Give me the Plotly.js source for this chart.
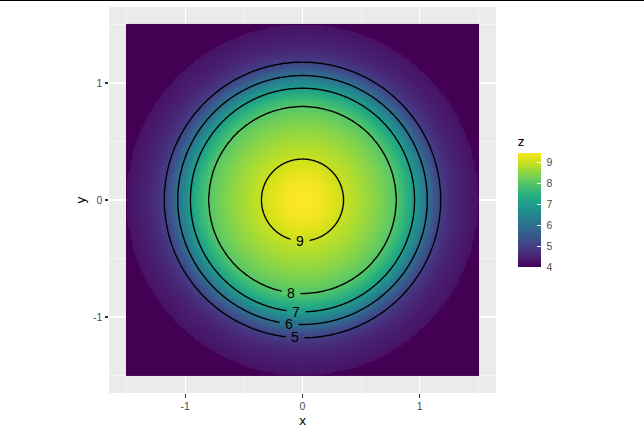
<!DOCTYPE html>
<html>
<head>
<meta charset="utf-8">
<script src="https://cdn.plot.ly/plotly-3.0.1.min.js"></script>
<style>
html,body{margin:0;padding:0;background:#fff;}
#chart{width:644px;height:434px;}
#topline{position:absolute;left:0;top:0;width:644px;height:1px;background:#000;z-index:10;}
</style>
</head>
<body>
<div id="topline"></div>
<div id="chart"></div>
<script>
// Radial profile of z (distance from centre -> z)
const profileR = [0, 0.1, 0.2, 0.35, 0.5, 0.65, 0.8, 0.88, 0.956, 1.01, 1.064, 1.12, 1.177, 1.25, 1.3, 1.4, 1.5];
const profileZ = [9.43, 9.39, 9.28, 9.0, 8.72, 8.4, 8.0, 7.55, 7.0, 6.5, 6.0, 5.5, 5.0, 4.7, 4.55, 4.38, 4.25];
const outsideZ = 4.0;          // value outside the disc
const gridMin = -1.5, gridMax = 1.5, gridStep = 0.01;
const contourLevels = [5, 6, 7, 8, 9];
const labelX = [-0.067, -0.117, -0.058, -0.10, -0.024];   // where each contour label sits along x
const colorbarTicks = [4, 5, 6, 7, 8, 9];
const zMin = 4.0, zMax = 9.43;

const viridis = [[0,'#440154'],[0.0627,'#48186a'],[0.1255,'#472d7b'],[0.1882,'#424086'],[0.2510,'#3b528b'],[0.3137,'#33638d'],[0.3765,'#2c728e'],[0.4392,'#26828e'],[0.5020,'#21918c'],[0.5647,'#1fa088'],[0.6275,'#28ae80'],[0.6902,'#3fbc73'],[0.7529,'#5ec962'],[0.8157,'#84d44b'],[0.8784,'#addc30'],[0.9412,'#d8e219'],[1,'#fde725']];

function zAt(r){
  if (r > profileR[profileR.length-1]) return outsideZ;
  for (let i=1;i<profileR.length;i++){
    if (r <= profileR[i]){
      const t=(r-profileR[i-1])/(profileR[i]-profileR[i-1]);
      return profileZ[i-1]+t*(profileZ[i]-profileZ[i-1]);
    }
  }
  return outsideZ;
}
function radiusOf(level){
  for (let i=1;i<profileZ.length;i++){
    if (level >= profileZ[i]){
      const t=(profileZ[i-1]-level)/(profileZ[i-1]-profileZ[i]);
      return profileR[i-1]+t*(profileR[i]-profileR[i-1]);
    }
  }
  return profileR[profileR.length-1];
}
function hex2rgb(h){return [parseInt(h.substr(1,2),16),parseInt(h.substr(3,2),16),parseInt(h.substr(5,2),16)];}
function colorOf(v){
  const t=(v-zMin)/(zMax-zMin);
  for (let i=1;i<viridis.length;i++){
    if (t<=viridis[i][0]){
      const u=(t-viridis[i-1][0])/(viridis[i][0]-viridis[i-1][0]);
      const a=hex2rgb(viridis[i-1][1]), b=hex2rgb(viridis[i][1]);
      return 'rgb('+a.map((c,k)=>Math.round(c+u*(b[k]-c))).join(',')+')';
    }
  }
  return viridis[viridis.length-1][1];
}

const xs=[], ys=[];
const n=Math.round((gridMax-gridMin)/gridStep);
for (let i=0;i<=n;i++){ xs.push(+(gridMin+i*gridStep).toFixed(4)); ys.push(+(gridMin+i*gridStep).toFixed(4)); }
const zs = ys.map(y=>xs.map(x=>zAt(Math.sqrt(x*x+y*y))));

const font = "Liberation Sans, Arial, sans-serif";
const nb = '\u00a0';

const heat = {
  type:'heatmap', x:xs, y:ys, z:zs, zmin:zMin, zmax:zMax, colorscale:viridis,
  zsmooth:false, hoverinfo:'skip',
  colorbar:{
    x:1.056, xanchor:'left', y:(393-267)/386, yanchor:'bottom',
    thickness:23, thicknessmode:'pixels', len:134, lenmode:'pixels',
    outlinewidth:0, xpad:0, ypad:0,
    tickvals:colorbarTicks, ticktext:colorbarTicks.map(v=>nb+String(v)),
    ticks:'inside', ticklen:4, tickcolor:'#ffffff', tickwidth:1,
    tickfont:{family:font,size:10.5,color:'#4d4d4d'},
    title:{text:'z', side:'top', font:{family:font,size:13.5,color:'#000'}}
  }
};
const cont = {
  type:'contour', x:xs, y:ys, z:zs, showscale:false, hoverinfo:'skip',
  contours:{start:contourLevels[0], end:contourLevels[contourLevels.length-1], size:1, coloring:'none'},
  line:{color:'#000', width:1.4}
};

const gapBoxes = [], labels = [];
contourLevels.forEach((l,i)=>{
  const r=radiusOf(l), x=labelX[i], y=-Math.sqrt(r*r-x*x);
  gapBoxes.push({
    x:x, y:y, xref:'x', yref:'y', text:nb, showarrow:false,
    font:{family:font,size:4,color:'rgba(0,0,0,0)'}, bgcolor:colorOf(l), borderpad:0, width:18, height:5
  });
  labels.push({
    x:x, y:y, xref:'x', yref:'y', text:String(l), showarrow:false,
    font:{family:font,size:14,color:'#000'}
  });
});

const axisCommon = {
  range:[-1.65,1.65], showgrid:true, gridcolor:'#ffffff', gridwidth:1.1, zeroline:false, showline:false,
  tickmode:'array', tickvals:[-1,0,1], ticktext:['-1','0','1'],
  ticks:'outside', ticklen:3.5, tickcolor:'#333333', tickwidth:1.1,
  tickfont:{family:font,size:10.5,color:'#4d4d4d'},
  minor:{tickmode:'array', tickvals:[-1.5,-0.5,0.5,1.5], showgrid:true, gridcolor:'#ffffff', gridwidth:0.55, ticks:''}
};

const layout = {
  width:644, height:434,
  margin:{l:109, r:148, t:7, b:41, pad:0},
  paper_bgcolor:'#ffffff', plot_bgcolor:'#ebebeb',
  showlegend:false,
  xaxis:Object.assign({}, axisCommon, {title:{text:'x', font:{family:font,size:13.5,color:'#000'}, standoff:4}}),
  yaxis:Object.assign({}, axisCommon, {title:{text:'y', font:{family:font,size:13.5,color:'#000'}, standoff:4}}),
  annotations:gapBoxes.concat(labels)
};

Plotly.newPlot('chart',[heat,cont],layout,{displayModeBar:false,staticPlot:true});
</script>
</body>
</html>
